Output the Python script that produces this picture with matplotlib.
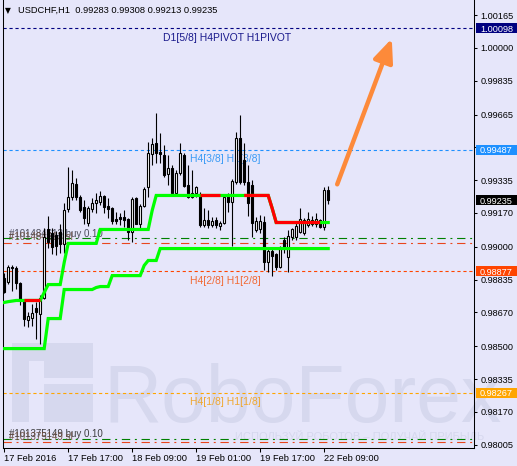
import numpy as np
import matplotlib
matplotlib.use('Agg')
import matplotlib.pyplot as plt
import matplotlib.transforms as mtrans
from matplotlib.patches import Rectangle

plt.rcParams['font.family'] = ['Liberation Sans', 'DejaVu Sans']
plt.rcParams['lines.scale_dashes'] = False
plt.rcParams['axes.linewidth'] = 0.75

# ---------------- data ----------------
symbol = 'USDCHF,H1'

opens = [0.98845, 0.98825, 0.98896, 0.98891, 0.98820, 0.98730, 0.98634, 0.98644, 0.98694, 0.98664,
         0.98740, 0.99087, 0.99067, 0.99057, 0.99072, 0.99016, 0.99188, 0.99248, 0.99314, 0.99248,
         0.99198, 0.99122, 0.99188, 0.99218, 0.99223, 0.99253, 0.99203, 0.99193, 0.99142, 0.99152,
         0.99152, 0.99142, 0.99072, 0.99243, 0.99117, 0.99203, 0.99299, 0.99465, 0.99520, 0.99475,
         0.99460, 0.99364, 0.99394, 0.99268, 0.99369, 0.99460, 0.99309, 0.99248, 0.99268, 0.99258,
         0.99107, 0.99137, 0.99107, 0.99137, 0.99102, 0.99122, 0.99253, 0.99223, 0.99324, 0.99545,
         0.99434, 0.99324, 0.99309, 0.99082, 0.99087, 0.99127, 0.98921, 0.98981, 0.98966, 0.98896,
         0.99032, 0.98951, 0.99047, 0.99047, 0.99072, 0.99067, 0.99107, 0.99137, 0.99112, 0.99137,
         0.99097, 0.99283]
highs = [0.98870, 0.98906, 0.98906, 0.98901, 0.98825, 0.98730, 0.98674, 0.98714, 0.98720, 0.98755,
         0.99092, 0.99157, 0.99092, 0.99077, 0.99117, 0.99218, 0.99399, 0.99384, 0.99344, 0.99258,
         0.99233, 0.99203, 0.99243, 0.99268, 0.99278, 0.99258, 0.99243, 0.99198, 0.99173, 0.99168,
         0.99183, 0.99147, 0.99248, 0.99248, 0.99213, 0.99299, 0.99525, 0.99545, 0.99671, 0.99570,
         0.99510, 0.99460, 0.99409, 0.99384, 0.99520, 0.99470, 0.99409, 0.99384, 0.99304, 0.99273,
         0.99193, 0.99183, 0.99152, 0.99152, 0.99132, 0.99258, 0.99268, 0.99339, 0.99575, 0.99661,
         0.99520, 0.99409, 0.99334, 0.99152, 0.99162, 0.99157, 0.98996, 0.98996, 0.98971, 0.99006,
         0.99047, 0.99082, 0.99092, 0.99122, 0.99193, 0.99147, 0.99173, 0.99157, 0.99168, 0.99142,
         0.99299, 0.99308]
lows = [0.98765, 0.98815, 0.98780, 0.98790, 0.98709, 0.98604, 0.98594, 0.98604, 0.98538, 0.98513,
        0.98735, 0.98996, 0.98966, 0.98961, 0.98971, 0.98971, 0.99173, 0.99233, 0.99233, 0.99173,
        0.99112, 0.99102, 0.99173, 0.99168, 0.99208, 0.99168, 0.99147, 0.99117, 0.99117, 0.99107,
        0.99097, 0.99032, 0.99022, 0.99117, 0.99082, 0.99198, 0.99248, 0.99409, 0.99419, 0.99419,
        0.99349, 0.99309, 0.99263, 0.99258, 0.99359, 0.99299, 0.99243, 0.99243, 0.99248, 0.99097,
        0.99097, 0.99092, 0.99097, 0.99092, 0.99082, 0.99117, 0.99173, 0.99006, 0.99314, 0.99314,
        0.99309, 0.99157, 0.99047, 0.99072, 0.99067, 0.98881, 0.98871, 0.98855, 0.98881, 0.98891,
        0.98971, 0.98871, 0.99032, 0.99032, 0.99067, 0.99057, 0.99097, 0.99102, 0.99097, 0.99092,
        0.99082, 0.99213]
closes = [0.98775, 0.98896, 0.98891, 0.98820, 0.98730, 0.98639, 0.98654, 0.98669, 0.98674, 0.98740,
          0.99047, 0.99022, 0.99001, 0.99006, 0.99016, 0.99183, 0.99248, 0.99319, 0.99248, 0.99183,
          0.99147, 0.99193, 0.99218, 0.99233, 0.99253, 0.99198, 0.99188, 0.99132, 0.99132, 0.99142,
          0.99137, 0.99072, 0.99238, 0.99117, 0.99203, 0.99293, 0.99470, 0.99515, 0.99470, 0.99465,
          0.99359, 0.99394, 0.99268, 0.99369, 0.99470, 0.99304, 0.99248, 0.99268, 0.99299, 0.99107,
          0.99137, 0.99107, 0.99132, 0.99107, 0.99122, 0.99248, 0.99223, 0.99329, 0.99545, 0.99324,
          0.99324, 0.99218, 0.99122, 0.99132, 0.99132, 0.98921, 0.98981, 0.98956, 0.98896, 0.99001,
          0.99001, 0.99052, 0.99087, 0.99102, 0.99142, 0.99137, 0.99142, 0.99112, 0.99142, 0.99097,
          0.99283, 0.99235]

# trailing stop lines (upper: green / red, lower: green)
upper_stop = [0.98720, 0.98724, 0.98727, 0.98730, 0.98730, 0.98730, 0.98730, 0.98730, 0.98730, 0.98730,
              0.98770, 0.98810, 0.98810, 0.98810, 0.98810, 0.98921, 0.99017, 0.99017, 0.99017, 0.99017,
              0.99017, 0.99017, 0.99017, 0.99017, 0.99087, 0.99087, 0.99087, 0.99087, 0.99087, 0.99087,
              0.99087, 0.99087, 0.99087, 0.99087, 0.99087, 0.99087, 0.99087, 0.99183, 0.99258, 0.99258,
              0.99258, 0.99258, 0.99258, 0.99258, 0.99258, 0.99258, 0.99258, 0.99258, 0.99258, 0.99258,
              0.99258, 0.99258, 0.99258, 0.99258, 0.99258, 0.99258, 0.99258, 0.99258, 0.99258, 0.99258,
              0.99258, 0.99258, 0.99258, 0.99258, 0.99258, 0.99258, 0.99258, 0.99193, 0.99122, 0.99122,
              0.99122, 0.99122, 0.99122, 0.99122, 0.99122, 0.99122, 0.99122, 0.99122, 0.99122, 0.99122,
              0.99122, 0.99122]
upper_red = [0, 0, 0, 0, 0, 1, 1, 1, 1, 0,
             0, 0, 0, 0, 0, 0, 0, 0, 0, 0,
             0, 0, 0, 0, 0, 0, 0, 0, 0, 0,
             0, 0, 0, 0, 0, 0, 0, 0, 0, 0,
             0, 0, 0, 0, 0, 0, 0, 0, 0, 1,
             1, 1, 1, 1, 0, 0, 0, 0, 0, 0,
             1, 1, 1, 1, 1, 1, 1, 1, 1, 1,
             1, 1, 1, 1, 1, 1, 1, 1, 1, 0,
             0, 0]
lower_stop = [0.98488, 0.98488, 0.98488, 0.98488, 0.98488, 0.98488, 0.98488, 0.98488, 0.98488, 0.98488,
              0.98488, 0.98639, 0.98639, 0.98639, 0.98639, 0.98785, 0.98785, 0.98785, 0.98785, 0.98785,
              0.98785, 0.98785, 0.98785, 0.98795, 0.98800, 0.98800, 0.98800, 0.98855, 0.98855, 0.98855,
              0.98855, 0.98855, 0.98855, 0.98855, 0.98855, 0.98906, 0.98931, 0.98931, 0.98931, 0.98991,
              0.98991, 0.98991, 0.98991, 0.98991, 0.98991, 0.98991, 0.98991, 0.98991, 0.98991, 0.98991,
              0.98991, 0.98991, 0.98991, 0.98991, 0.98991, 0.98991, 0.98991, 0.98991, 0.98991, 0.98991,
              0.98991, 0.98991, 0.98991, 0.98991, 0.98991, 0.98991, 0.98991, 0.98991, 0.98991, 0.98991,
              0.98991, 0.98991, 0.98991, 0.98991, 0.98991, 0.98991, 0.98991, 0.98991, 0.98991, 0.98991,
              0.98991, 0.98991]

# pivot / murrey levels
level_prices = [1.00098, 0.99487, 0.98877, 0.98267]
level_names = ['D1[5/8] H4PIVOT H1PIVOT', 'H4[3/8] H1[3/8]', 'H4[2/8] H1[2/8]', 'H4[1/8] H1[1/8]']

# order lines
order_prices = [0.99044, 0.99019, 0.98033, 0.98020]
order_texts = ['#101484613 buy 0.10', '#101484613 sl', '#101375149 buy 0.10', '#101375149 sl']

# forecast arrow (bar index, price)
arrow_start = (83.25, 0.99314)
arrow_end = (96.9, 1.00047)

ytick_values = [1.00165, 1.00000, 0.99835, 0.99665, 0.99500, 0.99335, 0.99170, 0.99000,
                0.98835, 0.98670, 0.98500, 0.98335, 0.98170, 0.98005]
time_labels = ['17 Feb 2016', '17 Feb 17:00', '18 Feb 09:00', '19 Feb 01:00', '19 Feb 17:00', '22 Feb 09:00']
time_label_bars = [0, 16, 32, 48, 64, 80]

# ---------------- styles ----------------
BG = '#E6E6FA'
level_colors = ['#000080', '#1E90FF', '#FF4500', '#FFA500']
level_text_colors = ['#1A1A8C', '#3B9BF5', '#F26A35', '#F0A830']
order_colors = ['#008000', '#E8461E', '#008000', '#E8461E']
order_text_colors = ['#3A3A4A', '#6A4A3A', '#2A2A2A', '#6A4A3A']
WM = '#D6D8EE'

W, H = 517, 466
fig = plt.figure(figsize=(W / 100, H / 100), dpi=100)
fig.patch.set_facecolor(BG)
ax = fig.add_axes([3 / W, (H - 448) / H, 471 / W, 448 / H])
ax.set_facecolor(BG)

n = len(opens)
xs = np.arange(n)
o = np.array(opens); c = np.array(closes); hi = np.array(highs); lo = np.array(lows)

ax.set_xlim(-0.3, -0.3 + 471 / 4)
ax.set_ylim(0.97988, 1.00241)


def fx(px):
    return px / W


def fy(py):
    return 1 - py / H


# watermark
logo = Rectangle((fx(12), fy(422)), fx(93) - fx(12), fy(343) - fy(422),
                 transform=fig.transFigure, facecolor=WM, edgecolor='none', zorder=0.3)
ax.add_patch(logo)
cut = Rectangle((fx(29), fy(422)), fx(44) - fx(29), fy(361) - fy(422),
                transform=fig.transFigure, facecolor=BG, edgecolor='none', zorder=0.35)
ax.add_patch(cut)
cut2 = Rectangle((fx(44), fy(384)), fx(93) - fx(44), fy(378) - fy(384),
                 transform=fig.transFigure, facecolor=BG, edgecolor='none', zorder=0.35)
ax.add_patch(cut2)
t = ax.text(fx(103), fy(422), 'RoboForex', transform=fig.transFigure, fontsize=58,
            color=WM, ha='left', va='baseline', zorder=0.4)
t.set_clip_box(ax.bbox)
t2 = ax.text(fx(235), fy(440), 'ИСПОЛЬЗУЙ РОБОТОВ – ПОЛУЧАЙ ПРИБЫЛЬ', transform=fig.transFigure,
             fontsize=8, color=WM, ha='left', va='baseline', zorder=0.4)
t2.set_clip_box(ax.bbox)

# level lines
for price, name, col, tcol in zip(level_prices, level_names, level_colors, level_text_colors):
    ax.axhline(price, color=col, lw=0.8, dashes=(2.3, 2.0), zorder=1)
lx = [0.3397, 0.397, 0.397, 0.397]
blend = mtrans.blended_transform_factory(ax.transAxes, ax.transData)
for price, name, tcol, xpos in zip(level_prices, level_names, level_text_colors, lx):
    ax.annotate(name, xy=(xpos, price), xycoords=blend, xytext=(0, -9), textcoords='offset points',
                fontsize=7.5, color=tcol, ha='left', va='baseline', zorder=2)

# order lines
for price, col in zip(order_prices, order_colors):
    ax.axhline(price, color=col, lw=0.8, dashes=(6.0, 3.4, 1.4, 3.4), zorder=1)
for price, txt, tcol, off in zip(order_prices, order_texts, order_text_colors, [0.8, 2.0, 1.4, 1.5]):
    ax.annotate(txt, xy=(0.0127, price), xycoords=blend, xytext=(0, off), textcoords='offset points',
                fontsize=7, color=tcol, ha='left', va='baseline', zorder=2, alpha=0.9)

# candles
up = c >= o
ax.vlines(xs, lo, hi, color='black', lw=0.8, zorder=3)
bottoms = np.minimum(o, c)
heights = np.abs(c - o)
ax.bar(xs, heights, bottom=bottoms, width=0.55, color=np.where(up, 'white', 'black'),
       edgecolor='black', linewidth=0.8, zorder=4)

# stop lines
ax.plot(xs, lower_stop, color='#00FF00', lw=2.3, zorder=5, solid_joinstyle='miter')
ax.plot(xs, upper_stop, color='#00FF00', lw=2.3, zorder=5, solid_joinstyle='miter')
us = np.array(upper_stop)
i = 0
while i < n - 1:
    if upper_red[i]:
        j = i
        while j < n - 1 and upper_red[j]:
            j += 1
        ax.plot(xs[i:j + 1], us[i:j + 1], color='#FF0000', lw=2.3, zorder=6,
                solid_capstyle='butt', solid_joinstyle='miter')
        i = j
    else:
        i += 1

# arrow
ax.annotate('', xy=arrow_end, xytext=arrow_start,
            arrowprops=dict(arrowstyle='-|>,head_length=0.7,head_width=0.3', lw=3.2,
                            color='#FD8A3A', mutation_scale=20, shrinkA=0, shrinkB=0,
                            capstyle='round', joinstyle='round'),
            zorder=7)

# axes styling
for s in ['left', 'right', 'bottom']:
    ax.spines[s].set_color('black')
ax.spines['top'].set_visible(False)
ax.yaxis.tick_right()
ax.set_yticks(ytick_values)
ax.set_yticklabels(['%.5f' % v for v in ytick_values])
ax.tick_params(axis='y', direction='out', length=2.5, width=0.75, pad=2.2, labelsize=6.6,
               colors='black', left=False, right=True)
ax.set_xticks(time_label_bars)
ax.set_xticklabels(time_labels)
ax.tick_params(axis='x', direction='out', length=3, width=0.75, pad=1.5, labelsize=6.7, colors='black')
for lab in ax.get_xticklabels():
    lab.set_ha('left')

# price boxes on the right axis
box_prices = level_prices + [closes[-1]]
box_colors = level_colors + ['#000000']
box_h = 10 * (1.00241 - 0.97988) / 448
for price, col in zip(box_prices, box_colors):
    r = Rectangle((1.0042, price - box_h / 2), 0.088, box_h, transform=blend,
                  facecolor=col, edgecolor='none', clip_on=False, zorder=10)
    ax.add_patch(r)
    ax.text(1.0127, price, '%.5f' % price, transform=blend, fontsize=6.6, color='white',
            ha='left', va='center_baseline', clip_on=False, zorder=11)

# header
fig.text(fx(5), fy(13.3), '▼', fontsize=5.5, color='black', ha='left', va='baseline',
         family=['DejaVu Sans'])
fig.text(fx(18), fy(13.3), '%s  %.5f %.5f %.5f %.5f' % (symbol, opens[-1], highs[-1], lows[-1], closes[-1]),
         fontsize=6.7, color='black', ha='left', va='baseline')

fig.savefig('out.png', dpi=100, facecolor=BG)
